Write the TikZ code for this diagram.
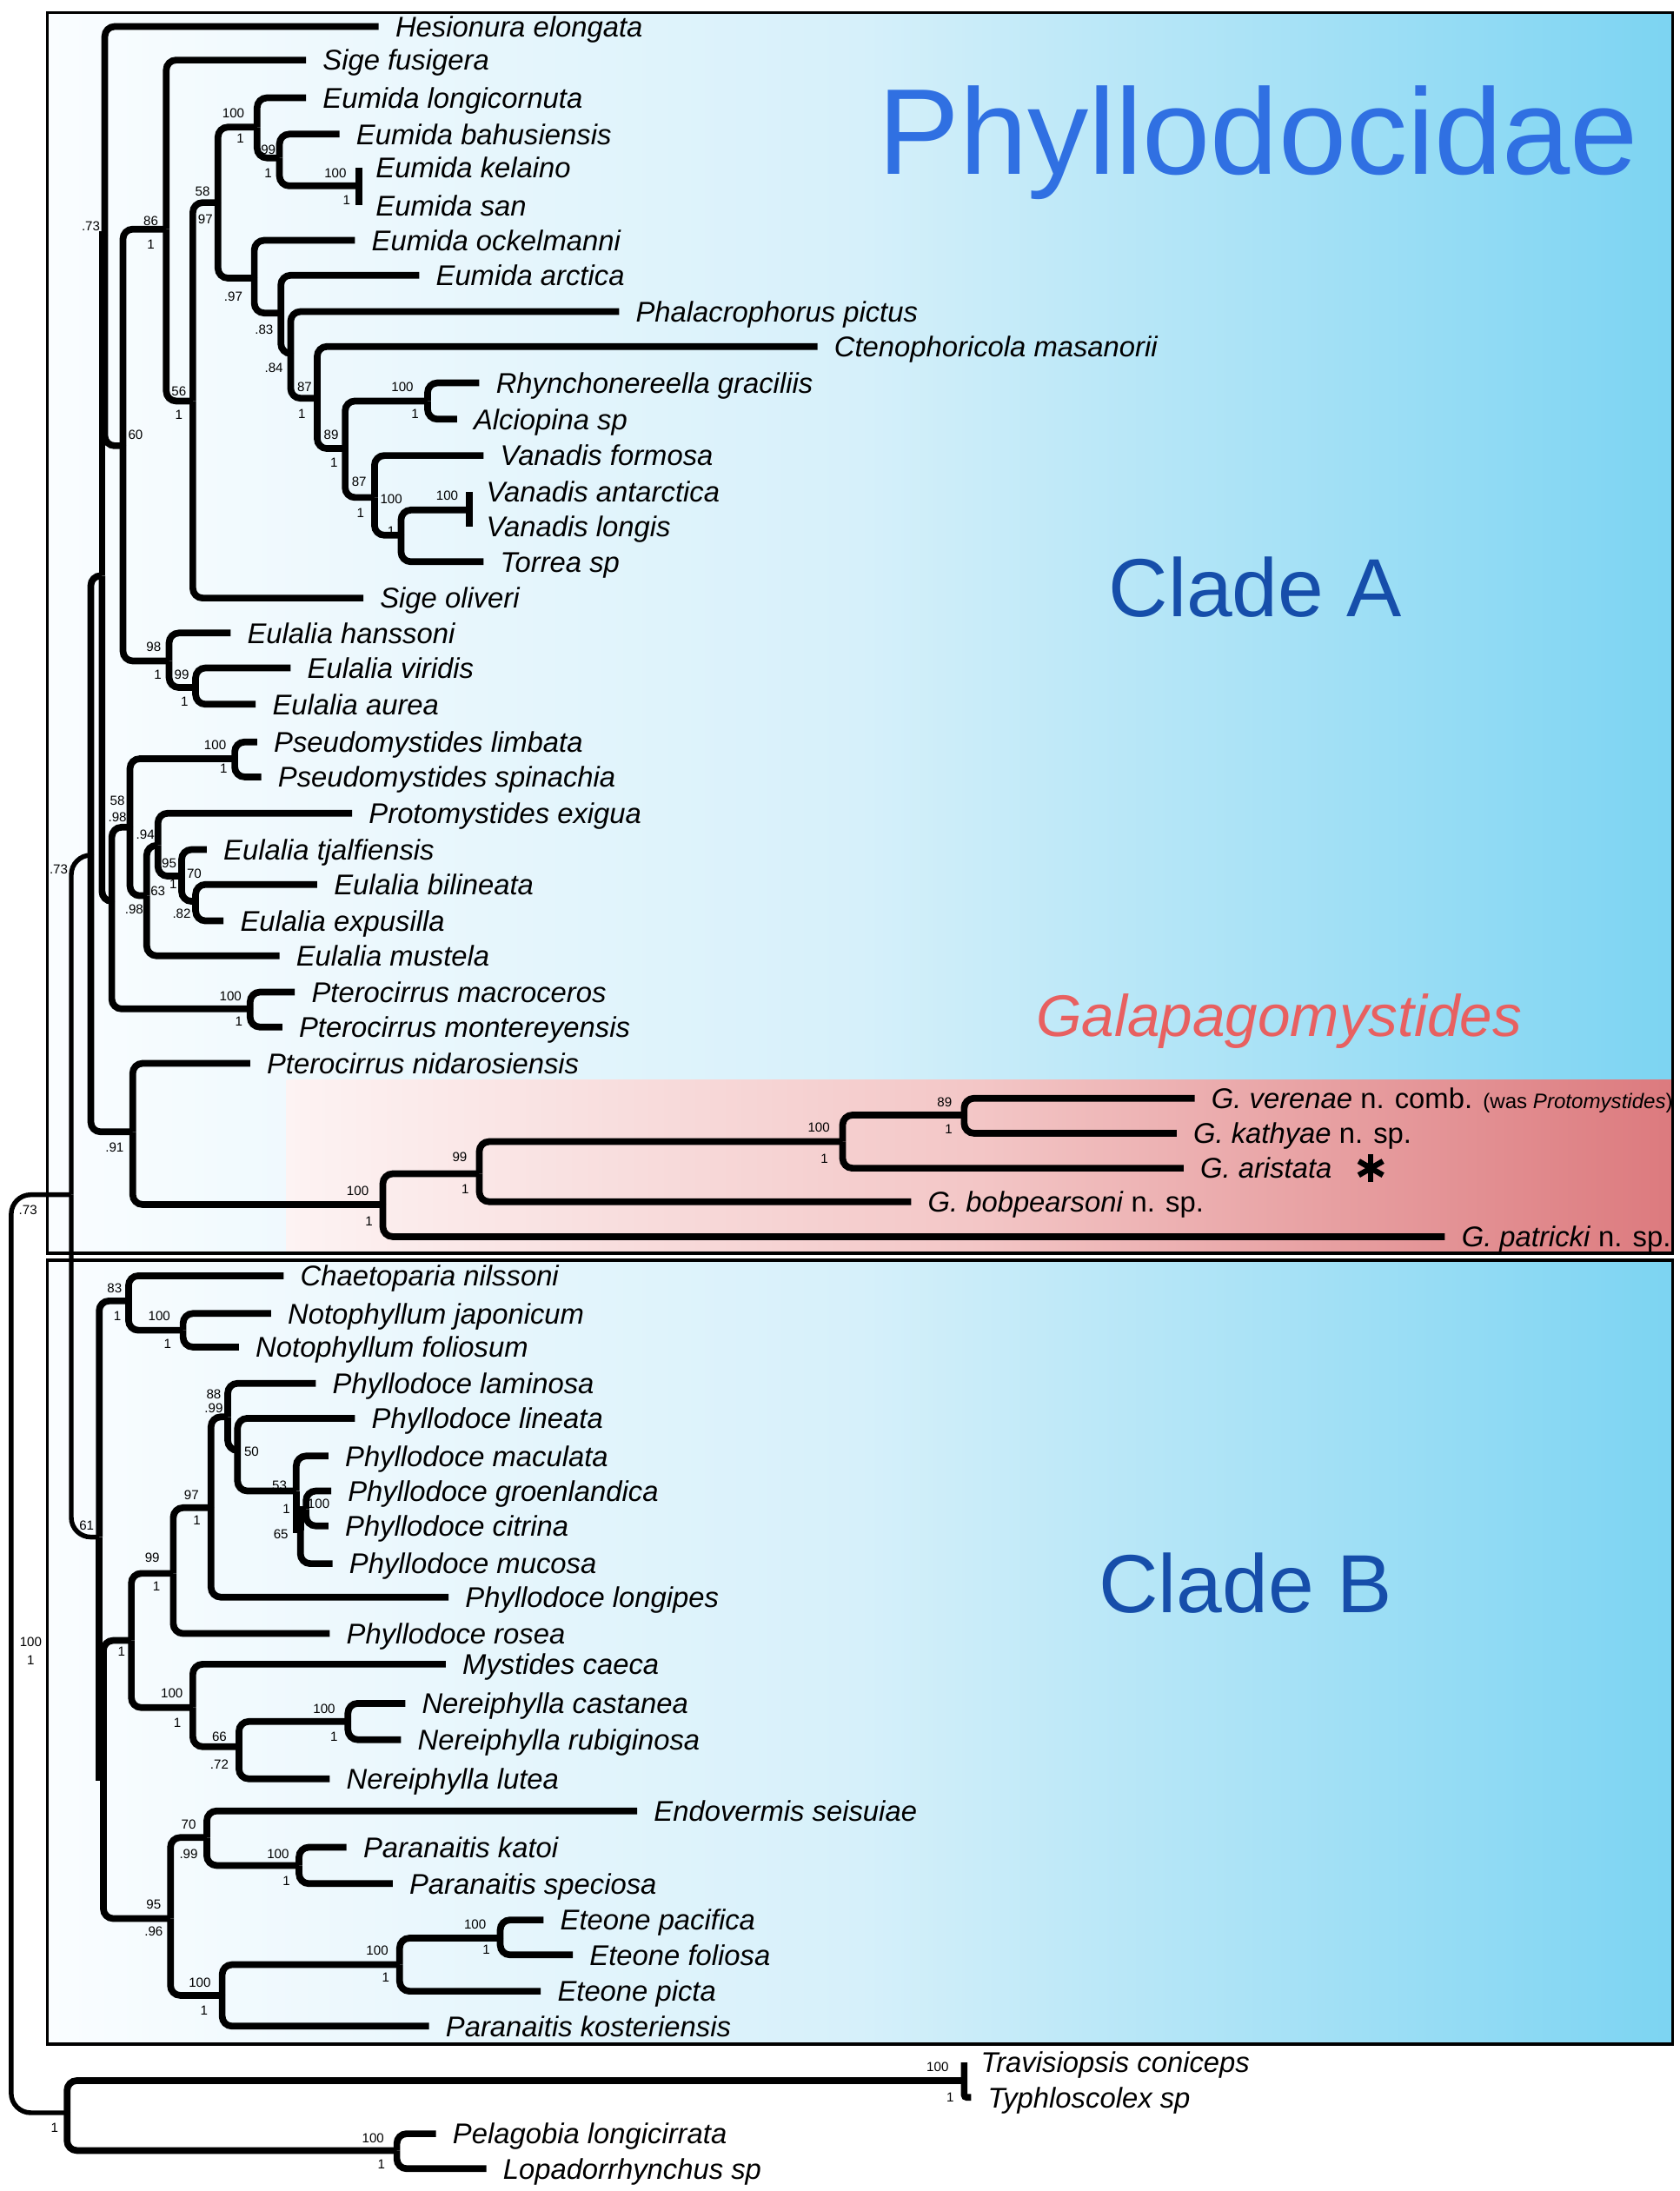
\documentclass[tikz,border=0pt]{standalone}
\usepackage{fontspec}
\setmainfont{Liberation Sans}
\usetikzlibrary{positioning}
\definecolor{PhyBlue}{RGB}{48,112,226}
\definecolor{CladeBlue}{RGB}{22,78,170}
\definecolor{GalRed}{RGB}{232,96,96}
\definecolor{BoxPale}{RGB}{250,253,255}
\definecolor{BoxMid}{RGB}{214,240,250}
\definecolor{BoxCyan}{RGB}{124,212,242}
\definecolor{RedPale}{RGB}{253,243,243}
\definecolor{RedMid}{RGB}{243,198,198}
\definecolor{RedDeep}{RGB}{220,122,126}
\tikzset{
  br/.style={draw=black,line width=2.4pt,rounded corners=3.5pt},
  brthin/.style={br,line width=1.7pt},
  tax/.style={anchor=west,inner xsep=6pt,inner ysep=0pt,outer sep=0pt,
    text height=7.3pt,text depth=0pt,font=\fontsize{10.2}{12}\selectfont\itshape},
  taxr/.style={tax,font=\fontsize{10.2}{12}\selectfont},
  bs/.style={inner sep=0pt,font=\fontsize{4.7}{5}\selectfont},
  cladebox/.style={left color=BoxPale,right color=BoxCyan,middle color=BoxMid},
  frame/.style={draw=black,line width=1.1pt},
  title/.style={anchor=base west,inner sep=0pt},
}
\begin{document}
\begin{tikzpicture}[x=0.5pt,y=-0.5pt]
\useasboundingbox (0,0) rectangle (1202,1568);
\shade[cladebox] (34,9) rectangle (1197,897);
\shade[left color=RedPale,right color=RedDeep,middle color=RedMid] (205,773) rectangle (1197,897);
\shade[cladebox] (34,902) rectangle (1197,1463);

\node[title,text=PhyBlue,font=\fontsize{43.7}{50}\selectfont] (tphy) at (628,125) {Phyllodocidae};
\node[title,text=CladeBlue,font=\fontsize{29.5}{34}\selectfont] (tcla) at (793,441) {Clade A};
\node[title,text=CladeBlue,font=\fontsize{29.5}{34}\selectfont] (tclb) at (786,1154) {Clade B};
\node[title,text=GalRed,font=\fontsize{21}{25}\selectfont\itshape] (tgal) at (741,742) {Galapagomystides};

\foreach \n/\x/\y/\t in {hes/271/19/Hesionura elongata, sfus/219/43/Sige fusigera,
  elon/219/70/Eumida longicornuta, ebah/243/96/Eumida bahusiensis,
  ekel/257/120/Eumida kelaino, esan/257/147/Eumida san,
  eock/254/172/Eumida ockelmanni, earc/300/197/Eumida arctica,
  phal/443/223/Phalacrophorus pictus, cten/585/248/Ctenophoricola masanorii,
  rhyn/343/274/Rhynchonereella graciliis, alci/327/300/Alciopina sp,
  vfor/346/326/Vanadis formosa, vant/336/352/Vanadis antarctica,
  vlon/336/377/Vanadis longis, torr/346/402/Torrea sp,
  soli/260/428/Sige oliveri, ehan/165/453/Eulalia hanssoni,
  evir/208/478/Eulalia viridis, eaur/183/504/Eulalia aurea,
  plim/184/531/Pseudomystides limbata, pspi/187/556/Pseudomystides spinachia,
  prot/252/582/Protomystides exigua, etja/148/608/Eulalia tjalfiensis,
  ebil/227/633/Eulalia bilineata, eexp/160/659/Eulalia expusilla,
  emus/200/684/Eulalia mustela, pmac/211/710/Pterocirrus macroceros,
  pmon/202/735/Pterocirrus montereyensis, pnid/179/761/Pterocirrus nidarosiensis,
  chae/203/913/Chaetoparia nilssoni, njap/194/940/Notophyllum japonicum,
  nfol/171/964/Notophyllum foliosum, plam/226/990/Phyllodoce laminosa,
  plin/254/1015/Phyllodoce lineata, pmcu/235/1042/Phyllodoce maculata,
  pgro/237/1067/Phyllodoce groenlandica, pcit/235/1092/Phyllodoce citrina,
  pmuc/238/1119/Phyllodoce mucosa, plng/321/1143/Phyllodoce longipes,
  pros/236/1169/Phyllodoce rosea, myst/319/1191/Mystides caeca,
  ncas/290/1219/Nereiphylla castanea, nrub/287/1245/Nereiphylla rubiginosa,
  nlut/236/1273/Nereiphylla lutea, endo/456/1296/Endovermis seisuiae,
  pkat/248/1322/Paranaitis katoi, pspe/281/1348/Paranaitis speciosa,
  epac/389/1374/Eteone pacifica, efol/410/1399/Eteone foliosa,
  epic/387/1425/Eteone picta, pkos/307/1450/Paranaitis kosteriensis,
  trav/690/1476/Travisiopsis coniceps, typh/695/1501/Typhloscolex sp,
  pela/312/1527/Pelagobia longicirrata, lopa/348/1552/Lopadorrhynchus sp}
  \node[tax] (\n) at (\x,\y) {\t};

\node[taxr] (gver) at (855,786) {\textit{G. verenae} n. comb. {\fontsize{7.5}{9}\selectfont(was \textit{Protomystides})}};
\node[taxr] (gkat) at (842,811) {\textit{G. kathyae} n. sp.};
\node[taxr] (gari) at (847,836) {\textit{G. aristata}};
\node[taxr] (gbob) at (652,860) {\textit{G. bobpearsoni} n. sp.};
\node[taxr] (gpat) at (1034,885) {\textit{G. patricki} n. sp.};
\coordinate (ast) at (981,836);
\foreach \a in {90,30,150}
  \draw[line width=2pt] (ast) ++(\a:10) -- ++(\a+180:20);

\foreach \n/\x/\y in {rt/8/1180, ph/51/855, ca2/65/612, ca3/73/412, nh/75/168,
  n60/88/319, n86/119/164, n56/138/287, e4/156/145, e1/184/91, e2/200/113,
  e3/257/133, e5/182/199, e6/201/224, e7/208/253, e8/227/285, e9/247/321,
  r1/306/287, v1/268/356, v2/287/383, v3/336/365, eh/121/473, ev/140/492,
  n58b/80/645, n94/93/592, psn/168/543, n63/105/641, n95/113/605, n70/130/627,
  n82/140/645, pm/179/722, n91/95/810, g1/274/862, g2/343/840, g3/603/817,
  g4/690/798, cb/71/1100, c1/92/931, n1/131/952, cb2/74/1272, phm/94/1174,
  p99/124/1126, p97/151/1079, p88/163/1014, p50/170/1038, p53/212/1067,
  p65/215/1095, p100b/219/1080, m100/138/1222, n66/171/1250, nc/249/1232,
  p95/122/1373, p70/148/1315, pk/214/1335, e100a/159/1428, e100b/286/1406,
  e100c/358/1387, og/48/1512, t/690/1489, pl/284/1539}
  \coordinate (\n) at (\x,\y);

\foreach \a/\b in {rt/ph, rt/og, ph/ca2, ph/cb}
  \draw[brthin,rounded corners=7pt] (\a) |- (\b);
\foreach \a/\b in {ca3/nh, cb/cb2, p53/p65, p65/p100b}
  \draw[br,sharp corners] (\a) |- (\b);
\foreach \a/\b in {nh/hes.west, nh/n60, n60/n86, n60/eh, n86/sfus.west, n86/n56,
  n56/e4, n56/soli.west, e4/e1, e4/e5, e1/elon.west, e1/e2, e2/ebah.west, e2/e3,
  e5/eock.west, e5/e6, e6/earc.west, e6/e7, e7/phal.west, e7/e8, e8/cten.west,
  e8/e9, e9/r1, e9/v1, r1/rhyn.west, r1/alci.west, v1/vfor.west, v1/v2, v2/v3,
  v2/torr.west, eh/ehan.west, eh/ev, ev/evir.west, ev/eaur.west, ca2/ca3,
  ca3/n58b, n58b/n94, n58b/pm, n94/psn, n94/n63, psn/plim.west, psn/pspi.west,
  n63/n95, n63/emus.west, n95/prot.west, n95/n70, n70/etja.west, n70/n82,
  n82/ebil.west, n82/eexp.west, pm/pmac.west, pm/pmon.west, ca2/n91,
  n91/pnid.west, n91/g1, g1/g2, g1/gpat.west, g2/g3, g2/gbob.west, g3/g4,
  g3/gari.west, g4/gver.west, g4/gkat.west, cb/c1, c1/chae.west, c1/n1,
  n1/njap.west, n1/nfol.west, cb2/phm, cb2/p95, phm/p99, phm/m100, p99/p97,
  p99/pros.west, p97/p88, p97/plng.west, p88/plam.west, p88/p50, p50/plin.west,
  p50/p53, p53/pmcu.west, p65/pmuc.west, p100b/pgro.west, p100b/pcit.west,
  m100/myst.west, m100/n66, n66/nc, n66/nlut.west, nc/ncas.west, nc/nrub.west,
  p95/p70, p95/e100a, p70/endo.west, p70/pk, pk/pkat.west, pk/pspe.west,
  e100a/e100b, e100a/pkos.west, e100b/e100c, e100b/epic.west, e100c/epac.west,
  e100c/efol.west, og/t, og/pl, pl/pela.west, pl/lopa.west}
  \draw[br] (\a) |- (\b);
\draw[br] (ekel.west) -- (esan.west);
\draw[br] (vant.west) -- (vlon.west);
\draw[br,rounded corners=1pt] (trav.west) |- (typh.west);

\draw[frame] (34,9) rectangle (1197,897);
\draw[frame] (34,902) rectangle (1197,1463);

\foreach \x/\y/\t [count=\i] in {65/162/.73, 167/81/100, 172/99/1, 192/107/99,
  192/124/1, 240/124/100, 248/143/1, 145/137/58, 147/157/97, 108/158/86,
  108/175/1, 167/212/.97, 189/236/.83, 196/263/.84, 218/277/87, 216/296/1,
  128/280/56, 128/297/1, 97/311/60, 288/277/100, 297/296/1, 237/311/89,
  239/331/1, 257/345/87, 258/367/1, 280/357/100, 280/380/1, 320/355/100,
  110/463/98, 113/483/1, 130/483/99, 132/502/1, 154/533/100, 160/550/1,
  84/573/58, 84/585/.98, 104/597/.94, 121/618/95, 124/633/1, 139/625/70,
  113/638/63, 96/651/.98, 130/654/.82, 165/713/100, 171/731/1, 42/622/.73,
  82/821/.91, 256/852/100, 264/874/1, 329/828/99, 333/851/1, 586/807/100,
  590/829/1, 676/789/89, 679/808/1, 82/922/83, 84/942/1, 114/942/100,
  120/962/1, 153/998/88, 153/1008/.99, 180/1039/50, 200/1063/53, 205/1080/1,
  201/1098/65, 228/1076/100, 137/1070/97, 141/1088/1, 109/1115/99, 112/1135/1,
  62/1092/61, 87/1182/1, 123/1212/100, 127/1233/1, 157/1243/66, 157/1263/.72,
  232/1223/100, 239/1243/1, 135/1306/70, 135/1327/.99, 199/1327/100,
  205/1346/1, 110/1363/95, 110/1382/.96, 340/1377/100, 348/1395/1,
  270/1396/100, 276/1415/1, 143/1419/100, 146/1439/1, 22/1175/100, 22/1188/1,
  20/866/.73, 39/1523/1, 671/1479/100, 680/1501/1, 267/1530/100, 273/1549/1}
  \node[bs] (s\i) at (\x,\y) {\t};
\end{tikzpicture}
\end{document}
